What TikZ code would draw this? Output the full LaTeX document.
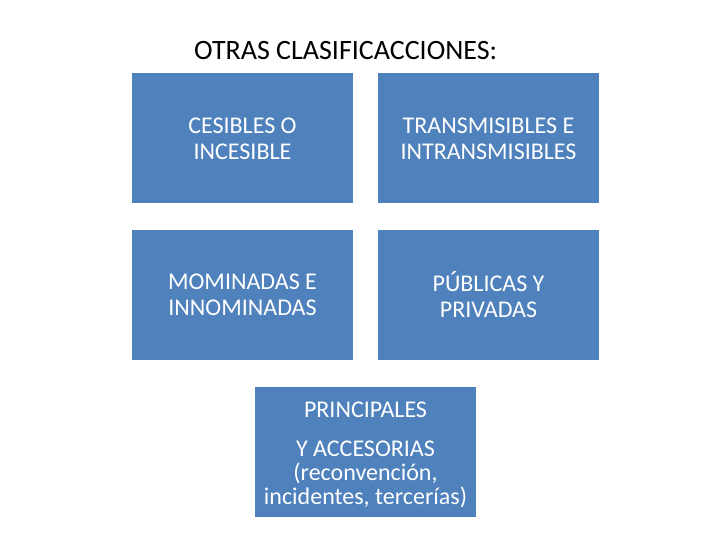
\documentclass[tikz,border=0pt]{standalone}
\usepackage{fontspec}
\setmainfont{Carlito}
\definecolor{boxblue}{RGB}{79,129,189}
\begin{document}
\begin{tikzpicture}[x=1pt,y=-1pt,
  catbox/.style={fill=boxblue, draw=none, minimum width=221pt, minimum height=130pt,
    inner sep=0pt, text=white, align=center, font=\fontsize{24}{26}\selectfont}]
\useasboundingbox (0,0) rectangle (720,540);
\node[anchor=base west, inner sep=0pt, font=\fontsize{28}{32}\selectfont] (title) at (194,60) {OTRAS CLASIFICACCIONES:};
\node[catbox] (ces) at (242.5,138.5) {CESIBLES O\\INCESIBLE};
\node[catbox] (tra) at (488.5,138.5) {TRANSMISIBLES E\\INTRANSMISIBLES};
\node[catbox] (mom) at (242.5,295) {MOMINADAS E\\INNOMINADAS};
\node[catbox] (pub) at (488.5,295) {PÚBLICAS Y\\PRIVADAS};
\node[catbox] (pri) at (365.5,452) {};
\node[text=white, align=center, inner sep=0pt, font=\fontsize{24}{23.8}\selectfont] (pritext) at ([yshift=-3pt]pri.center) {PRINCIPALES\\[15.5pt]Y ACCESORIAS\\(reconvención,\\incidentes, tercerías)};
\end{tikzpicture}
\end{document}
